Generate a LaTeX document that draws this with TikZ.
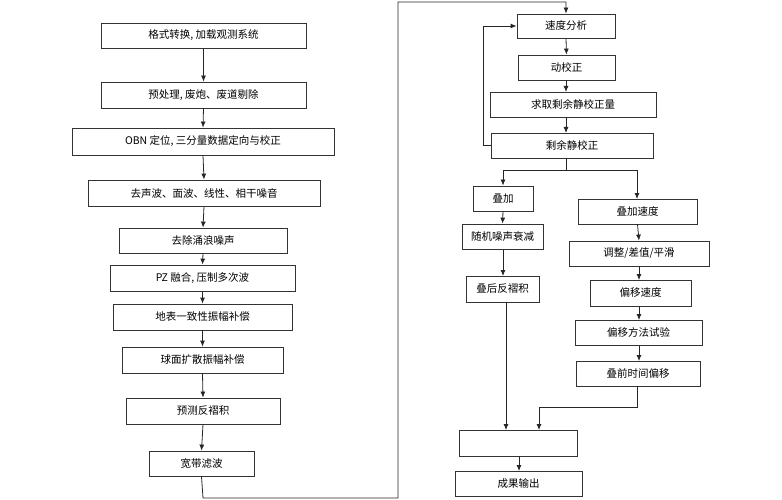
\documentclass[tikz,border=0pt]{standalone}
\usepackage{fontspec}
\setmainfont{Noto Sans CJK SC}
\usetikzlibrary{arrows.meta}
\begin{document}
\begin{tikzpicture}[x=1pt,y=-1pt,
  bx/.style={draw=black!80,line width=0.8pt,fill=white,inner sep=0pt,font=\fontsize{10.5}{12}\selectfont},
  ar/.style={-{Latex[length=6pt,width=5pt]},line width=0.8pt,black!85},
  ln/.style={line width=0.8pt,black!85}]
\useasboundingbox (0,0) rectangle (782,500);
\newcommand\bb[6]{\node[bx,minimum width=#4-#2,minimum height=#5-#3] (#1) at ({(#2+#4)/2},{(#3+#5)/2}) {#6};}
\bb{a1}{101}{23}{306}{48}{格式转换, 加载观测系统}
\bb{a2}{101}{82}{306}{108}{预处理, 废炮、废道剔除}
\bb{a3}{72}{128}{334}{155}{OBN 定位, 三分量数据定向与校正}
\bb{a4}{88}{180}{320}{206}{去声波、面波、线性、相干噪音}
\bb{a5}{119}{228}{287}{253}{去除涌浪噪声}
\bb{a6}{110}{265}{295}{291}{PZ 融合, 压制多次波}
\bb{a7}{113}{304}{292}{330}{地表一致性振幅补偿}
\bb{a8}{122}{347}{283}{373}{球面扩散振幅补偿}
\bb{a9}{126}{398}{280}{424}{预测反褶积}
\bb{a10}{149}{451}{254}{476}{宽带滤波}
\foreach \i/\j in {1/2,2/3,3/4,4/5,5/6,6/7,7/8,8/9,9/10}{\draw[ar] (a\i.south) -- (a\j.north);}
\bb{b1}{517}{14}{615}{38}{速度分析}
\bb{b2}{518}{55}{615}{80}{动校正}
\bb{b3}{490}{92}{656}{117}{求取剩余静校正量}
\bb{b4}{491}{133}{653}{158}{剩余静校正}
\bb{c1}{473}{186}{533}{211}{叠加}
\bb{c2}{462}{224}{543}{249}{随机噪声衰减}
\bb{c3}{466}{276}{539}{302}{叠后反褶积}
\bb{d1}{578}{199}{697}{224}{叠加速度}
\bb{d2}{569}{241}{709}{266}{调整/差值/平滑}
\bb{d3}{590}{280}{691}{306}{偏移速度}
\bb{d4}{575}{320}{702}{345}{偏移方法试验}
\bb{d5}{576}{361}{700}{386}{叠前时间偏移}
\bb{e1}{459}{430}{577}{456}{}
\bb{e2}{455}{471}{582}{496}{成果输出}
\draw[ar] (a10.south) -- (203,498) -- (398,498) -- (398,2) -- (566,2) -- (b1.north);
\draw[ar] (b1.south) -- (b2.north);
\draw[ar] (b2.south -| 566,0) -- (566,92);
\draw[ar] (566,117) -- (566,133);
\draw[ar] (b4.west) -- (483,145.5) -- (483,26) -- (b1.west);
\draw[ln] (566,158) -- (566,170);
\draw[ar] (503,170) -- (c1.north);
\draw[ln] (503,170) -- (637,170);
\draw[ar] (637,170) -- (637,199);
\draw[ar] (c1.south) -- (c2.north);
\draw[ar] (c2.south -| 503,0) -- (503,276);
\draw[ar] (506,302) -- (506,430);
\draw[ar] (d1.south) -- (d2.north);
\draw[ar] (d2.south -| 639,0) -- (639,280);
\draw[ar] (d3.south -| 639,0) -- (639,320);
\draw[ar] (d4.south -| 639,0) -- (639,361);
\draw[ar] (637,386) -- (637,407) -- (539,407) -- (539,430);
\draw[ar] (519,456) -- (519,471);
\end{tikzpicture}
\end{document}
